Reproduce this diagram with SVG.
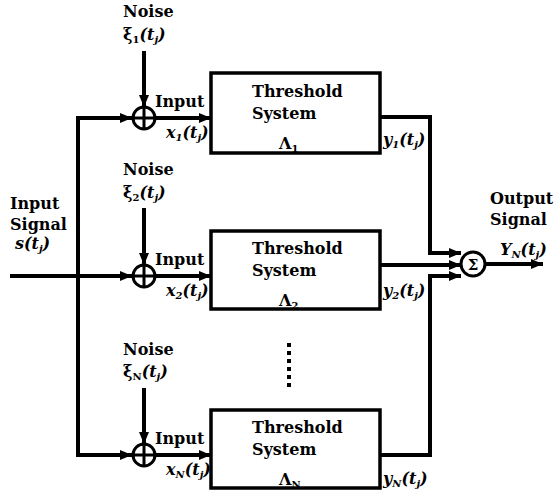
<svg xmlns="http://www.w3.org/2000/svg" width="557" height="495" viewBox="0 0 557 495">
<defs>
<marker id="ah" markerWidth="12" markerHeight="10" refX="12" refY="5" orient="auto" markerUnits="userSpaceOnUse">
<path d="M0,0 L12,5 L0,10 Z" fill="#000"/>
</marker>
<style>
text{font-family:"DejaVu Serif","Liberation Serif",serif;font-weight:bold;font-size:16px;fill:#000}
.m{font-style:italic}
.s{font-size:10px}
.w{fill:none;stroke:#000;stroke-width:4}
.b{fill:#fff;stroke:#000;stroke-width:3.5}
.c{fill:#fff;stroke:#000;stroke-width:3}
</style>
</defs>
<rect width="557" height="495" fill="#fff"/>
<g id="connectors">
<polyline class="w" points="132,118 78,118 78,455 132,455"/>
<line class="w" x1="78" y1="118" x2="132" y2="118" marker-end="url(#ah)"/>
<line class="w" x1="78" y1="455" x2="132" y2="455" marker-end="url(#ah)"/>
<line class="w" x1="10" y1="276" x2="132" y2="276" marker-end="url(#ah)"/>
<line class="w" x1="144" y1="51" x2="144" y2="107" marker-end="url(#ah)"/>
<line class="w" x1="144" y1="208" x2="144" y2="265" marker-end="url(#ah)"/>
<line class="w" x1="144" y1="388" x2="144" y2="444" marker-end="url(#ah)"/>
<line class="w" x1="155" y1="118" x2="211" y2="118" marker-end="url(#ah)"/>
<line class="w" x1="155" y1="276" x2="211" y2="276" marker-end="url(#ah)"/>
<line class="w" x1="155" y1="455" x2="211" y2="455" marker-end="url(#ah)"/>
<polyline class="w" points="380,117 430,117 430,253 461,253" marker-end="url(#ah)"/>
<line class="w" x1="380" y1="265" x2="461" y2="265" marker-end="url(#ah)"/>
<polyline class="w" points="380,455 430,455 430,276 461,276" marker-end="url(#ah)"/>
<line class="w" x1="486" y1="264" x2="543" y2="264" marker-end="url(#ah)"/>
<line x1="289" y1="343" x2="289" y2="390" stroke="#000" stroke-width="4" stroke-dasharray="4 4"/>
</g>
<g id="adder1"><circle class="c" cx="144" cy="118" r="11"/><path d="M133,118H155M144,107V129" stroke="#000" stroke-width="3"/></g>
<g id="adder2"><circle class="c" cx="144" cy="276" r="11"/><path d="M133,276H155M144,265V287" stroke="#000" stroke-width="3"/></g>
<g id="adderN"><circle class="c" cx="144" cy="455" r="11"/><path d="M133,455H155M144,444V466" stroke="#000" stroke-width="3"/></g>
<g id="sum"><circle class="c" cx="473" cy="264" r="12"/><text x="473" y="270" text-anchor="middle" style="font-size:15px">Σ</text></g>
<g id="box1"><rect class="b" x="211" y="73" width="169" height="80"/>
<text x="252" y="97">Threshold</text><text x="252" y="119">System</text>
<text x="279" y="149">Λ<tspan class="s" dy="3">1</tspan></text></g>
<g id="box2"><rect class="b" x="211" y="231" width="169" height="78"/>
<text x="252" y="254">Threshold</text><text x="252" y="276">System</text>
<text x="279" y="306">Λ<tspan class="s" dy="3">2</tspan></text></g>
<g id="boxN"><rect class="b" x="211" y="410" width="169" height="78"/>
<text x="252" y="433">Threshold</text><text x="252" y="455">System</text>
<text x="279" y="485">Λ<tspan class="s" dy="3">N</tspan></text></g>
<g id="noise1"><text x="123" y="17">Noise</text><text x="123" y="40">ξ<tspan class="s" dy="3">1</tspan><tspan dy="-3" class="m">(t</tspan><tspan class="s m" dy="3">j</tspan><tspan dy="-3" class="m">)</tspan></text></g>
<g id="noise2"><text x="123" y="175">Noise</text><text x="123" y="198">ξ<tspan class="s" dy="3">2</tspan><tspan dy="-3" class="m">(t</tspan><tspan class="s m" dy="3">j</tspan><tspan dy="-3" class="m">)</tspan></text></g>
<g id="noiseN"><text x="123" y="355">Noise</text><text x="123" y="377">ξ<tspan class="s" dy="3">N</tspan><tspan dy="-3" class="m">(t</tspan><tspan class="s m" dy="3">j</tspan><tspan dy="-3" class="m">)</tspan></text></g>
<g id="in1"><text x="155" y="107">Input</text><text x="166" y="138" class="m">x<tspan class="s" dy="3">1</tspan><tspan dy="-3">(t</tspan><tspan class="s" dy="3">j</tspan><tspan dy="-3">)</tspan></text></g>
<g id="in2"><text x="155" y="265">Input</text><text x="166" y="296" class="m">x<tspan class="s" dy="3">2</tspan><tspan dy="-3">(t</tspan><tspan class="s" dy="3">j</tspan><tspan dy="-3">)</tspan></text></g>
<g id="inN"><text x="155" y="444">Input</text><text x="166" y="475" class="m">x<tspan class="s" dy="3">N</tspan><tspan dy="-3">(t</tspan><tspan class="s" dy="3">j</tspan><tspan dy="-3">)</tspan></text></g>
<g id="out1"><text x="383" y="145" class="m">y<tspan class="s" dy="3">1</tspan><tspan dy="-3">(t</tspan><tspan class="s" dy="3">j</tspan><tspan dy="-3">)</tspan></text></g>
<g id="out2"><text x="383" y="296" class="m">y<tspan class="s" dy="3">2</tspan><tspan dy="-3">(t</tspan><tspan class="s" dy="3">j</tspan><tspan dy="-3">)</tspan></text></g>
<g id="outN"><text x="383" y="484" class="m">y<tspan class="s" dy="3">N</tspan><tspan dy="-3">(t</tspan><tspan class="s" dy="3">j</tspan><tspan dy="-3">)</tspan></text></g>
<g id="input-signal"><text x="10" y="209">Input</text><text x="10" y="230">Signal</text><text x="15" y="249" class="m">s(t<tspan class="s" dy="3">j</tspan><tspan dy="-3">)</tspan></text></g>
<g id="output-signal"><text x="490" y="204">Output</text><text x="490" y="225">Signal</text><text x="500" y="255" class="m">Y<tspan class="s" dy="3">N</tspan><tspan dy="-3">(t</tspan><tspan class="s" dy="3">j</tspan><tspan dy="-3">)</tspan></text></g>
</svg>
